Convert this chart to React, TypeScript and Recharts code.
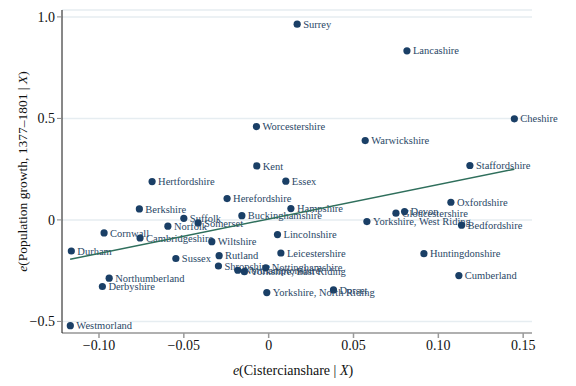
import React from 'react';
import { ScatterChart, Scatter, XAxis, YAxis, CartesianGrid } from 'recharts';

// counties, residuals
const counties = [
  'Surrey', 'Lancashire', 'Cheshire', 'Worcestershire', 'Warwickshire', 'Kent',
  'Staffordshire', 'Hertfordshire', 'Essex', 'Herefordshire', 'Oxfordshire', 'Berkshire',
  'Hampshire', 'Gloucestershire', 'Devon', 'Buckinghamshire', 'Suffolk', 'Somerset',
  'Norfolk', 'Yorkshire, West Riding', 'Bedfordshire', 'Cornwall', 'Cambridgeshire',
  'Wiltshire', 'Lincolnshire', 'Durham', 'Leicestershire', 'Huntingdonshire', 'Rutland',
  'Sussex', 'Shropshire', 'Northamptonshire', 'Yorkshire, East Riding', 'Nottinghamshire',
  'Cumberland', 'Northumberland', 'Derbyshire', 'Dorset', 'Yorkshire, North Riding',
  'Westmorland',
];
const cistercian = [
  0.0168, 0.0815, 0.1448, -0.0072, 0.0569, -0.007,
  0.1186, -0.0687, 0.0101, -0.0245, 0.1074, -0.0762,
  0.0131, 0.075, 0.0801, -0.0158, -0.05, -0.0416,
  -0.0594, 0.0579, 0.1137, -0.097, -0.0758,
  -0.0335, 0.0052, -0.1163, 0.0072, 0.0915, -0.0292,
  -0.0547, -0.0296, -0.0182, -0.0143, -0.0017,
  0.1121, -0.094, -0.098, 0.0382, -0.0011,
  -0.1169,
];
const growth = [
  0.964, 0.833, 0.498, 0.46, 0.391, 0.266,
  0.268, 0.189, 0.191, 0.105, 0.087, 0.054,
  0.056, 0.033, 0.041, 0.021, 0.008, -0.015,
  -0.031, -0.008, -0.026, -0.064, -0.089,
  -0.107, -0.072, -0.153, -0.163, -0.166, -0.176,
  -0.19, -0.227, -0.248, -0.255, -0.236,
  -0.274, -0.287, -0.328, -0.345, -0.358,
  -0.521,
];

// fitted line endpoints
const fitX = [-0.117, 0.1448];
const fitY = [-0.194, 0.25];

const xTicks = [-0.1, -0.05, 0, 0.05, 0.1, 0.15];
const yTicks = [-0.5, 0, 0.5, 1];

const points = counties.map((name, i) => ({ name, x: cistercian[i], y: growth[i] }));
const fit = fitX.map((x, i) => ({ x, y: fitY[i] }));

const DOT = '#1a3f66';
const LINE = '#2f6f5c';
const SERIF = '"Liberation Serif", "Times New Roman", serif';

const fmtX = (v: number) => (v === 0 ? '0' : v.toFixed(2).replace('-', '\u2212'));
const fmtY = (v: number) => (v === 0 ? '0' : v.toFixed(1).replace('-', '\u2212'));

const CountyDot = (props: any) => {
  const { cx, cy, payload } = props;
  if (cx == null || cy == null) return null;
  return (
    <g>
      <circle cx={cx} cy={cy} r={3.6} fill={DOT} />
      <text x={cx + 6} y={cy + 3.6} fontSize={10.5} fontFamily={SERIF} fill="#2a4766">
        {payload.name}
      </text>
    </g>
  );
};

export default function App() {
  return (
    <div style={{ position: 'absolute', left: 0, top: 0, background: '#fff' }}>
      <ScatterChart width={576} height={386} margin={{ top: 10, right: 44, left: 0, bottom: 0 }}>
        <CartesianGrid vertical={false} stroke="#e6edf1" strokeWidth={1.5} />
        <XAxis
          type="number"
          dataKey="x"
          domain={[-0.1218, 0.1552]}
          ticks={xTicks}
          height={53}
          tickFormatter={fmtX}
          axisLine={{ stroke: '#b0b0b0', strokeWidth: 2 }}
          tickLine={{ stroke: '#9a9a9a', strokeWidth: 1.5 }}
          tickSize={5}
          tick={{ fill: '#111', fontSize: 14, fontFamily: SERIF }}
          label={(p: any) => {
            const vb = p.viewBox;
            return (
              <text x={vb.x + vb.width / 2 - 4} y={vb.y + 42} textAnchor="middle" fontSize={14} fontFamily={SERIF} fill="#111">
                <tspan fontStyle="italic">e</tspan>(Cistercianshare | <tspan fontStyle="italic">X</tspan>)
              </text>
            );
          }}
        />
        <YAxis
          type="number"
          dataKey="y"
          domain={[-0.557, 1.034]}
          ticks={yTicks}
          width={62}
          tickFormatter={fmtY}
          axisLine={{ stroke: '#111', strokeWidth: 1 }}
          tickLine={{ stroke: '#888' }}
          tickSize={5}
          tick={{ fill: '#111', fontSize: 14, fontFamily: SERIF }}
          label={(p: any) => {
            const vb = p.viewBox;
            const cx = 22;
            const cy = vb.y + vb.height / 2;
            return (
              <text x={cx} y={cy} transform={`rotate(-90 ${cx} ${cy})`} textAnchor="middle" dominantBaseline="central" fontSize={13.5} fontFamily={SERIF} fill="#111">
                <tspan fontStyle="italic">e</tspan>(Population growth, 1377–1801 | <tspan fontStyle="italic">X</tspan>)
              </text>
            );
          }}
        />
        <Scatter data={points} shape={CountyDot} isAnimationActive={false} />
        <Scatter
          data={fit}
          line={{ stroke: LINE, strokeWidth: 1.5 }}
          shape={() => null}
          isAnimationActive={false}
        />
      </ScatterChart>
    </div>
  );
}
